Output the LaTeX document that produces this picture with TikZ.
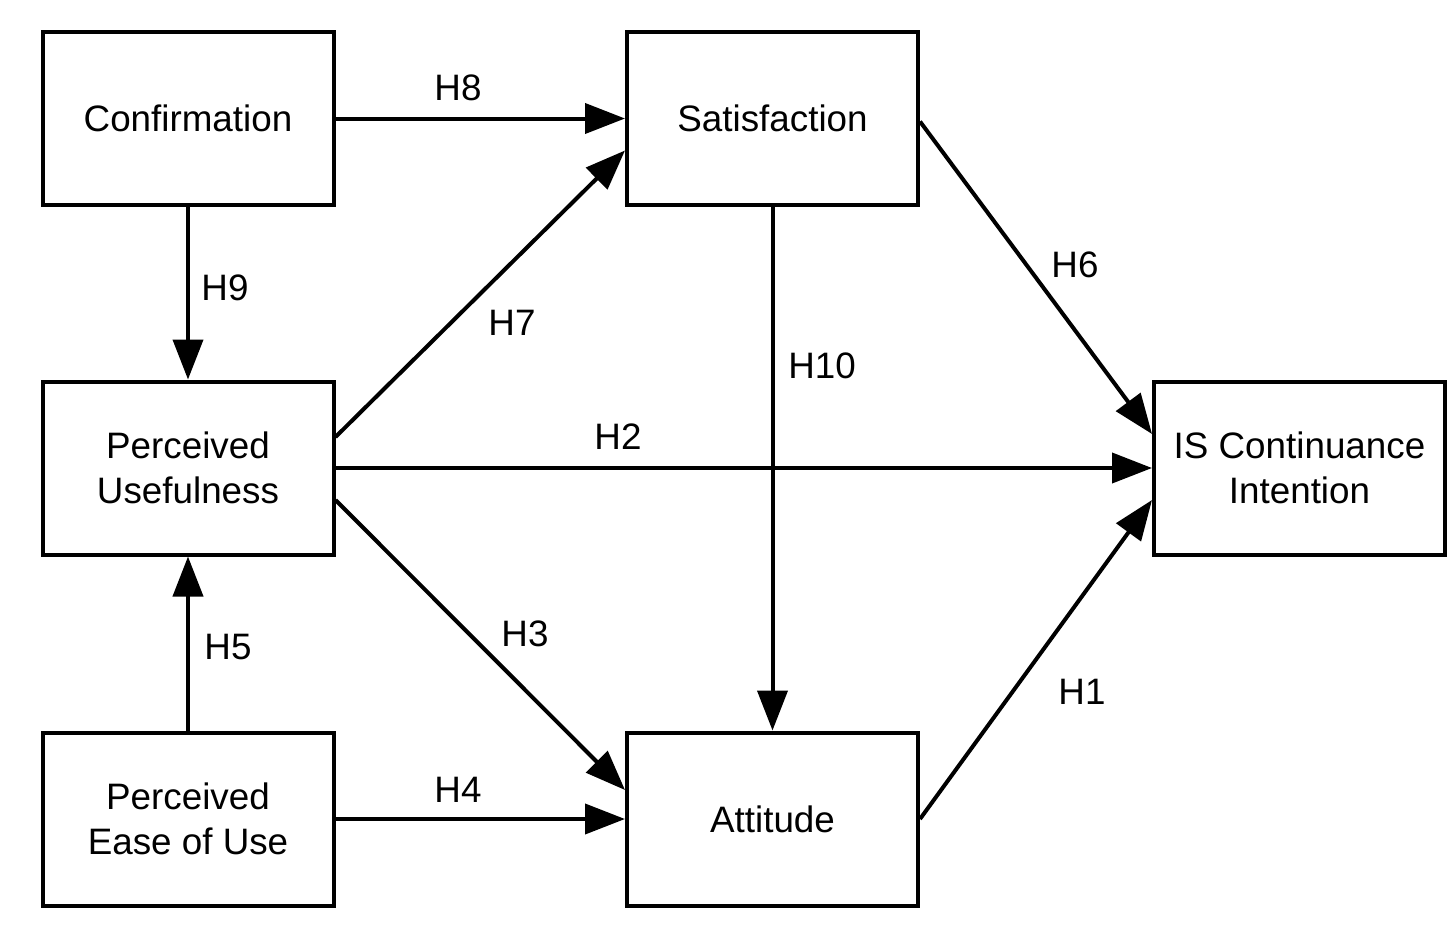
\documentclass[tikz,border=0pt]{standalone}
\usepackage{fontspec}
\setmainfont{Liberation Sans}
\usetikzlibrary{arrows.meta,calc}
\begin{document}
\begin{tikzpicture}[x=0.5pt,y=-0.5pt,
  box/.style={draw, line width=2pt, minimum width=145.5pt, minimum height=86.5pt,
    align=center, inner sep=0pt, font=\fontsize{18.4}{22.5}\selectfont},
  conn/.style={line width=2pt, -{Triangle[length=20pt,width=15pt]}},
  lab/.style={font=\fontsize{18.4}{22.5}\selectfont, inner sep=0pt}]
\useasboundingbox (0,0) rectangle (1456,926);
\fill[white] (0,0) rectangle (1456,926);
\node[box] (conf) at (188,118.5) {Confirmation};
\node[box] (sat) at (772.5,118.5) {Satisfaction};
\node[box] (pu) at (188,468) {Perceived\\Usefulness};
\node[box] (isci) at (1299.5,468) {IS Continuance\\Intention};
\node[box] (peou) at (188,819) {Perceived\\Ease of Use};
\node[box] (att) at (772.5,819) {Attitude};
% connectors
\draw[conn] (conf.east) -- (sat.west);
\draw[conn] (conf.south) -- (pu.north);
\draw[conn] ($(pu.east)+(0,-31)$) -- ($(sat.west)+(0,32)$);
\draw[conn] (pu.east) -- (isci.west);
\draw[conn] ($(pu.east)+(0,32)$) -- ($(att.west)+(0,-29)$);
\draw[conn] (peou.north) -- (pu.south);
\draw[conn] (peou.east) -- (att.west);
\draw[conn] (sat.south) -- (att.north);
\draw[conn] ($(sat.east)+(0,3)$) -- ($(isci.west)+(0,-34)$);
\draw[conn] (att.east) -- ($(isci.west)+(0,32)$);
% labels
\node[lab] (h8) at (458,88) {H8};
\node[lab] (h9) at (225,288) {H9};
\node[lab] (h7) at (512,323) {H7};
\node[lab] (h2) at (618,437) {H2};
\node[lab] (h3) at (525,634) {H3};
\node[lab] (h5) at (228,647) {H5};
\node[lab] (h4) at (458,790) {H4};
\node[lab] (h10) at (822,366) {H10};
\node[lab] (h6) at (1075,265) {H6};
\node[lab] (h1) at (1082,692) {H1};
\end{tikzpicture}
\end{document}
